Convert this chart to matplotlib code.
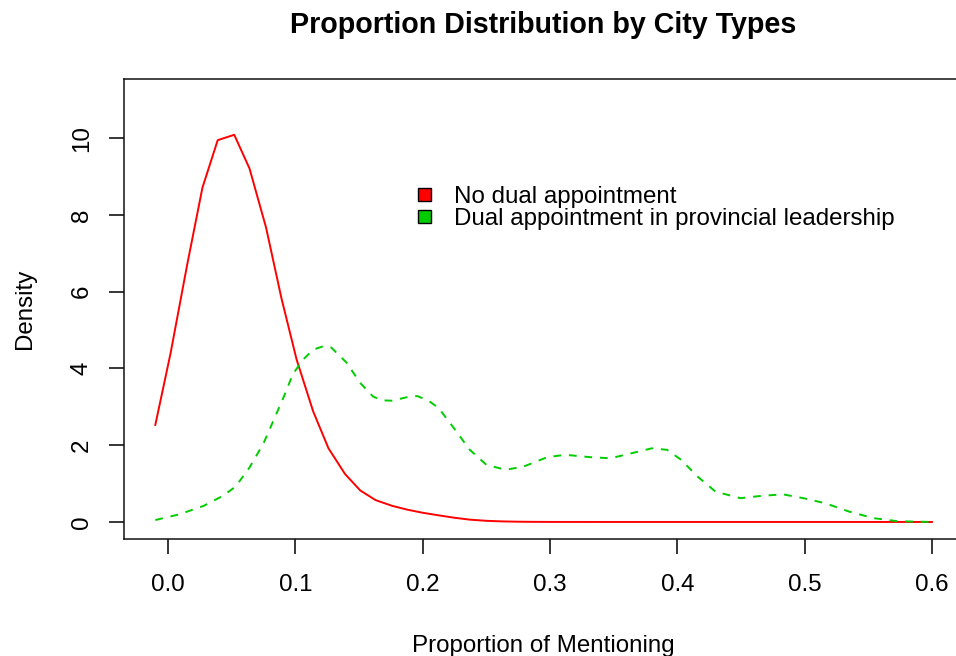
import matplotlib.pyplot as plt
from matplotlib.patches import Patch

# density estimates (x = proportion, y = density)
x_no_dual = [-0.010, 0.002, 0.015, 0.027, 0.039, 0.052, 0.064, 0.077, 0.089,
             0.101, 0.114, 0.126, 0.139, 0.151, 0.163, 0.176, 0.188, 0.200,
             0.213, 0.225, 0.237, 0.250, 0.262, 0.274, 0.287, 0.300, 0.350,
             0.400, 0.450, 0.500, 0.550, 0.600]
y_no_dual = [2.53, 4.40, 6.70, 8.71, 9.95, 10.09, 9.21, 7.67, 5.84,
             4.23, 2.88, 1.92, 1.25, 0.82, 0.57, 0.42, 0.32, 0.24,
             0.17, 0.11, 0.06, 0.03, 0.015, 0.007, 0.003, 0.001, 0.0,
             0.0, 0.0, 0.0, 0.0, 0.0]

x_dual = [-0.010, 0.009, 0.028, 0.043, 0.053, 0.064, 0.075, 0.083, 0.091,
          0.098, 0.106, 0.114, 0.122, 0.128, 0.140, 0.151, 0.161, 0.168,
          0.176, 0.190, 0.196, 0.205, 0.2125, 0.2235, 0.237, 0.250, 0.265,
          0.279, 0.298, 0.312, 0.331, 0.3475, 0.364, 0.380, 0.392, 0.403,
          0.416, 0.430, 0.4495, 0.466, 0.483, 0.499, 0.516, 0.535, 0.554,
          0.573, 0.600]
y_dual = [0.05, 0.20, 0.42, 0.68, 0.92, 1.42, 2.05, 2.66, 3.27,
          3.85, 4.23, 4.49, 4.58, 4.55, 4.16, 3.62, 3.27, 3.17,
          3.16, 3.27, 3.28, 3.15, 2.97, 2.49, 1.88, 1.49, 1.36,
          1.44, 1.69, 1.75, 1.69, 1.66, 1.79, 1.92, 1.88, 1.62,
          1.18, 0.79, 0.62, 0.68, 0.72, 0.62, 0.49, 0.27, 0.10,
          0.02, 0.0]

labels = ["No dual appointment", "Dual appointment in provincial leadership"]
colors = ["#FF0000", "#00CD00"]
x_ticks = [0.0, 0.1, 0.2, 0.3, 0.4, 0.5, 0.6]
y_ticks = [0, 2, 4, 6, 8, 10]

plt.rcParams["font.family"] = ["Liberation Sans", "DejaVu Sans"]
plt.rcParams["font.size"] = 17.4

W, H = 956, 656
fig = plt.figure(figsize=(W / 100, H / 100), dpi=100)
# axes box in pixels: left 124, right 963 (runs off the image), top 79, bottom 539
ax = fig.add_axes([124 / W, 1 - 539 / H, (963 - 124) / W, (539 - 79) / H])

ax.plot(x_no_dual, y_no_dual, color=colors[0], lw=1.4)
ax.plot(x_dual, y_dual, color=colors[1], lw=1.4, linestyle=(0, (4, 4)))

ax.set_xlim(-0.0346, 0.6244)
ax.set_ylim(-0.444, 11.544)
ax.set_xticks(x_ticks)
ax.set_xticklabels([f"{v:.1f}" for v in x_ticks])
ax.set_yticks(y_ticks)
ax.set_yticklabels([str(v) for v in y_ticks], rotation=90, va="center")
ax.tick_params(direction="out", length=10.5, width=1.1, pad=12, colors="black")
ax.tick_params(axis="x", pad=15)

for s in ax.spines.values():
    s.set_linewidth(1.1)
    s.set_color("#111111")

ax.set_xlabel("Proportion of Mentioning", labelpad=28)
ax.set_ylabel("Density", labelpad=25)
fig.suptitle("Proportion Distribution by City Types", fontweight="bold",
             fontsize=20.6, x=543.5 / W, y=1 - 11 / H, va="top")

handles = [Patch(facecolor=c, edgecolor="black", linewidth=1.0) for c in colors]
ax.legend(handles, labels, loc="upper left", frameon=False,
          bbox_to_anchor=(418 / W, 1 - 186 / H), bbox_transform=fig.transFigure,
          borderpad=0, borderaxespad=0, handlelength=0.55, handleheight=0.5,
          handletextpad=0.95, labelspacing=0.0)

fig.savefig("out.png", dpi=100)
